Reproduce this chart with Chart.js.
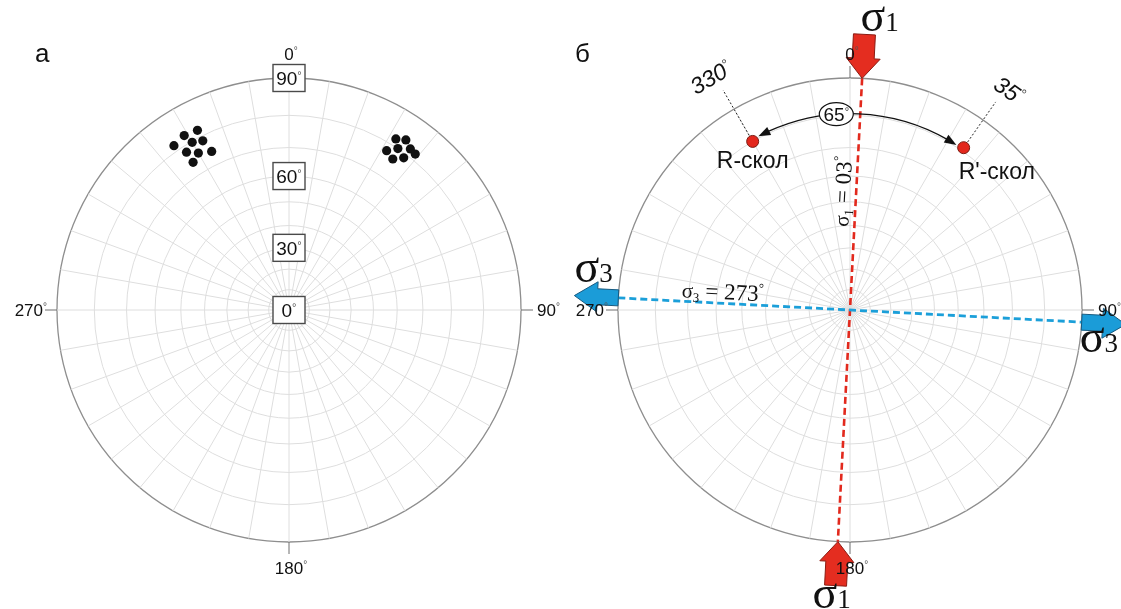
<!DOCTYPE html>
<html>
<head>
<meta charset="utf-8">
<script src="https://cdn.jsdelivr.net/npm/chart.js@4.4.1/dist/chart.umd.min.js"></script>
<style>
  html, body { margin: 0; padding: 0; background: #fff; }
  #wrap { position: relative; width: 1121px; height: 609px; overflow: hidden; }
  #wrap canvas { position: absolute; left: 0; top: 0; }
</style>
</head>
<body>
<div id="wrap">
  <canvas id="netA" width="1121" height="609"></canvas>
  <canvas id="netB" width="1121" height="609"></canvas>
</div>
<script>
// Directions of the net's radial lines (azimuth, clockwise from north)
const azimuthGrid = [0, 10, 20, 30, 40, 50, 60, 70, 80, 90, 100, 110, 120, 130, 140, 150, 160, 170,
                     180, 190, 200, 210, 220, 230, 240, 250, 260, 270, 280, 290, 300, 310, 320, 330, 340, 350];
// Small circles: angle from the centre (0°) to the primitive circle (90°)
const dipGrid = [0, 10, 20, 30, 40, 50, 60, 70, 80, 90];
const dipScaleLabels = [0, 30, 60, 90];
const cardinalAzimuths = [0, 90, 180, 270];
const cardinalLabels = ['0', '90', '180', '270'];

// Panel а: two clusters of measurements
const clusterWestAz  = [333, 329, 325, 330, 333, 327, 330, 334, 327];
const clusterWestDip = [82, 82.5, 81.7, 79.7, 78.6, 78.1, 76, 74.5, 74.4];
const clusterEastAz  = [32, 34.5, 31.5, 34, 37, 34.5, 37, 39];
const clusterEastDip = [82, 83.3, 77.7, 80, 82, 76.6, 78.8, 81.7];

// Panel б: stress axes and conjugate shears
const sigma1Trend = 3;
const sigma3Trend = 273;
const shearNames = ['R-скол', "R'-скол"];
const shearAz = [330, 35];
const shearDip = [80, 81];
const shearAngle = 65;

const SANS = '"Liberation Sans", Arial, sans-serif';
const SERIF = '"Liberation Serif", "Times New Roman", serif';
const NET_SIZE = 464;

// Wulff (equal-angle) projection of an angle measured from the centre
const wulff = d => Math.tan(d * Math.PI / 360);
const idx = az => az * azimuthGrid.length / 360;
const polar = (s, az, dip) => s.getPointPosition(idx(az), s.getDistanceFromCenterForValue(wulff(dip)));
const rim = (s, az, extra) => s.getPointPosition(idx(az), s.drawingArea + extra);
const canvasAngle = (s, az) => s.getIndexAngle(idx(az)) - Math.PI / 2;

function deg(size, color) {
  return { text: '°', font: Math.round(size * 0.6) + 'px ' + SANS, dy: -0.33 * size, color: color || '#555' };
}

function drawRuns(ctx, runs, x, y, rot, align) {
  ctx.save();
  ctx.translate(x, y);
  ctx.rotate(rot || 0);
  let total = 0;
  runs.forEach(r => { ctx.font = r.font; r.w = ctx.measureText(r.text).width; total += r.w; });
  let cx = 0;
  if (align === 'center') cx = -total / 2;
  else if (align === 'right') cx = -total;
  else if (align === 'first') cx = -runs[0].w / 2;
  ctx.textAlign = 'left';
  ctx.textBaseline = 'alphabetic';
  runs.forEach(r => {
    ctx.font = r.font;
    ctx.fillStyle = r.color || '#111';
    ctx.fillText(r.text, cx, r.dy || 0);
    cx += r.w;
  });
  ctx.restore();
}

function drawCardinals(ctx, s) {
  ctx.save();
  ctx.strokeStyle = '#6e6e6e';
  ctx.lineWidth = 1;
  cardinalAzimuths.forEach((az, i) => {
    const a = rim(s, az, 0), b = rim(s, az, 12);
    ctx.beginPath(); ctx.moveTo(a.x, a.y); ctx.lineTo(b.x, b.y); ctx.stroke();
    const runs = [{ text: cardinalLabels[i], font: '17px ' + SANS }, deg(17)];
    if (az === 0) { const p = rim(s, az, 18); drawRuns(ctx, runs, p.x, p.y, 0, 'first'); }
    else if (az === 180) { const p = rim(s, az, 32); drawRuns(ctx, runs, p.x, p.y, 0, 'first'); }
    else if (az === 90) { const p = rim(s, az, 16); drawRuns(ctx, runs, p.x, p.y + 6, 0, 'left'); }
    else { const p = rim(s, az, 10); drawRuns(ctx, runs, p.x, p.y + 6, 0, 'right'); }
  });
  ctx.restore();
}

function arrow(ctx, tail, tip, shaftW, headW, headL, fill, stroke) {
  const dx = tip.x - tail.x, dy = tip.y - tail.y, L = Math.hypot(dx, dy);
  const ux = dx / L, uy = dy / L, nx = -uy, ny = ux;
  const bx = tip.x - ux * headL, by = tip.y - uy * headL;
  const pts = [
    [tail.x + nx * shaftW / 2, tail.y + ny * shaftW / 2],
    [bx + nx * shaftW / 2, by + ny * shaftW / 2],
    [bx + nx * headW / 2, by + ny * headW / 2],
    [tip.x, tip.y],
    [bx - nx * headW / 2, by - ny * headW / 2],
    [bx - nx * shaftW / 2, by - ny * shaftW / 2],
    [tail.x - nx * shaftW / 2, tail.y - ny * shaftW / 2]
  ];
  ctx.save();
  ctx.beginPath();
  pts.forEach((p, i) => i ? ctx.lineTo(p[0], p[1]) : ctx.moveTo(p[0], p[1]));
  ctx.closePath();
  ctx.fillStyle = fill; ctx.fill();
  ctx.strokeStyle = stroke; ctx.lineWidth = 1; ctx.lineJoin = 'miter'; ctx.stroke();
  ctx.restore();
}

function dashedDiameter(ctx, s, trend, color, width) {
  const a = rim(s, trend, 0), b = rim(s, trend + 180, 0);
  ctx.save();
  ctx.strokeStyle = color; ctx.lineWidth = width; ctx.setLineDash([7, 4]);
  ctx.beginPath(); ctx.moveTo(a.x, a.y); ctx.lineTo(b.x, b.y); ctx.stroke();
  ctx.restore();
}

function arcHead(ctx, s, r, tipAz, backAz) {
  const tip = s.getPointPosition(idx(tipAz), r);
  const base = s.getPointPosition(idx(backAz), r);
  const dx = tip.x - base.x, dy = tip.y - base.y, L = Math.hypot(dx, dy);
  const nx = -dy / L, ny = dx / L;
  ctx.beginPath();
  ctx.moveTo(tip.x, tip.y);
  ctx.lineTo(base.x + nx * 4.5, base.y + ny * 4.5);
  ctx.lineTo(base.x - nx * 4.5, base.y - ny * 4.5);
  ctx.closePath();
  ctx.fill();
}

const netAPlugin = {
  id: 'netA',
  afterDraw(chart) {
    const s = chart.scales.r, ctx = chart.ctx;
    drawCardinals(ctx, s);
    // measured points
    ctx.save();
    ctx.fillStyle = '#111';
    [[clusterWestAz, clusterWestDip], [clusterEastAz, clusterEastDip]].forEach(([az, dip]) => {
      az.forEach((a, i) => {
        const p = polar(s, a, dip[i]);
        ctx.beginPath(); ctx.arc(p.x, p.y, 4.6, 0, Math.PI * 2); ctx.fill();
      });
    });
    // radial scale of the net
    dipScaleLabels.forEach(d => {
      const p = polar(s, 0, d);
      ctx.fillStyle = '#fff';
      ctx.fillRect(p.x - 16, p.y - 13.5, 32, 27);
      ctx.strokeStyle = '#4a4a4a'; ctx.lineWidth = 1.4;
      ctx.strokeRect(p.x - 16, p.y - 13.5, 32, 27);
      drawRuns(ctx, [{ text: String(d), font: '19px ' + SANS }, deg(19)], p.x, p.y + 7, 0, 'center');
    });
    ctx.restore();
    drawRuns(ctx, [{ text: 'а', font: '26px ' + SANS }], 35, 62, 0, 'left');
  }
};

const netBPlugin = {
  id: 'netB',
  afterDraw(chart) {
    const s = chart.scales.r, ctx = chart.ctx;

    // traces of the principal stress axes
    dashedDiameter(ctx, s, sigma1Trend, '#e2291d', 2.6);
    dashedDiameter(ctx, s, sigma3Trend, '#1b9fd9', 2.8);

    // angle between the shears
    const rArc = s.getDistanceFromCenterForValue(wulff((shearDip[0] + shearDip[1]) / 2));
    const headDeg = 12 / rArc * 180 / Math.PI;
    const gap = 2.2;
    ctx.save();
    ctx.strokeStyle = '#111'; ctx.fillStyle = '#111'; ctx.lineWidth = 1.3;
    ctx.beginPath();
    ctx.arc(s.xCenter, s.yCenter, rArc,
      canvasAngle(s, shearAz[0] + gap + headDeg - 0.5), canvasAngle(s, shearAz[1] - gap - headDeg + 0.5), false);
    ctx.stroke();
    arcHead(ctx, s, rArc, shearAz[0] + gap, shearAz[0] + gap + headDeg);
    arcHead(ctx, s, rArc, shearAz[1] - gap, shearAz[1] - gap - headDeg);
    const e = s.getPointPosition(idx(356), rArc);
    ctx.beginPath(); ctx.ellipse(e.x, e.y, 17, 11.5, 0, 0, Math.PI * 2);
    ctx.fillStyle = '#fff'; ctx.fill(); ctx.lineWidth = 1.2; ctx.stroke();
    drawRuns(ctx, [{ text: String(shearAngle), font: '19px ' + SANS }, deg(19, '#333')], e.x, e.y + 7, 0, 'center');

    // leaders and azimuth labels of the shears
    ctx.setLineDash([2, 2]); ctx.lineWidth = 1; ctx.strokeStyle = '#222';
    shearAz.forEach((az, i) => {
      const d = s.getDistanceFromCenterForValue(wulff(shearDip[i]));
      const a = s.getPointPosition(idx(az), d + 7), b = rim(s, az, 22);
      ctx.beginPath(); ctx.moveTo(a.x, a.y); ctx.lineTo(b.x, b.y); ctx.stroke();
    });
    ctx.setLineDash([]);
    shearAz.forEach(az => {
      const p = rim(s, az, 38);
      drawRuns(ctx, [{ text: String(az), font: 'italic 23px ' + SANS }, deg(23, '#444')],
        p.x, p.y + 8, az * Math.PI / 180, 'center');
    });

    // shear poles
    shearAz.forEach((az, i) => {
      const p = polar(s, az, shearDip[i]);
      ctx.beginPath(); ctx.arc(p.x, p.y, 6, 0, Math.PI * 2);
      ctx.fillStyle = '#e3271c'; ctx.fill();
      ctx.strokeStyle = '#7a1d14'; ctx.lineWidth = 1; ctx.stroke();
    });
    const pr = polar(s, shearAz[0], shearDip[0]);
    drawRuns(ctx, [{ text: shearNames[0], font: '23px ' + SANS }], pr.x, pr.y + 27, 0, 'center');
    const pr2 = polar(s, shearAz[1], shearDip[1]);
    drawRuns(ctx, [{ text: shearNames[1], font: '23px ' + SANS }], pr2.x - 5, pr2.y + 31, 0, 'left');
    ctx.restore();

    // σ1: compression arrows pointing at the net
    const red = '#e42d20', redEdge = '#8a1b12';
    const t1 = rim(s, sigma1Trend, 44), h1 = rim(s, sigma1Trend, 0);
    arrow(ctx, t1, h1, 22, 34, 20, red, redEdge);
    const t1b = rim(s, sigma1Trend + 180, 44), h1b = rim(s, sigma1Trend + 180, 0);
    arrow(ctx, t1b, h1b, 22, 34, 20, red, redEdge);
    // σ3: extension arrows pointing away from the net
    const blue = '#1b9cd8', blueEdge = '#175a80';
    const t3 = rim(s, sigma3Trend, 0), h3 = rim(s, sigma3Trend, 44);
    arrow(ctx, t3, h3, 16, 30, 23, blue, blueEdge);
    const t3b = rim(s, sigma3Trend - 180, 0), h3b = rim(s, sigma3Trend - 180, 44);
    arrow(ctx, t3b, h3b, 16, 30, 23, blue, blueEdge);

    // direction labels on top of the arrows
    drawCardinals(ctx, s);

    const sig = n => [{ text: 'σ', font: '46px ' + SERIF }, { text: n, font: '27px ' + SERIF }];
    drawRuns(ctx, sig('1'), t1.x - 4, t1.y - 3, 0, 'left');
    drawRuns(ctx, sig('1'), t1b.x - 4, t1b.y + 22, 0, 'center');
    drawRuns(ctx, sig('3'), h3.x, h3.y - 14, 0, 'left');
    drawRuns(ctx, sig('3'), t3b.x - 2, t3b.y + 30, 0, 'left');

    // values written along the traces
    const pad2 = v => String(v).padStart(2, '0');
    const val = (n, v) => [
      { text: 'σ', font: '21px ' + SERIF },
      { text: n, font: '13px ' + SERIF, dy: 4 },
      { text: ' = ' + v, font: '23px ' + SERIF },
      { text: '°', font: '13px ' + SERIF, dy: -9 }
    ];
    const r1 = (sigma1Trend - 90) * Math.PI / 180;
    const p1 = s.getPointPosition(idx(sigma1Trend), 118);
    drawRuns(ctx, val('1', pad2(sigma1Trend)), p1.x + Math.sin(r1) * 6, p1.y - Math.cos(r1) * 6, r1, 'center');
    const r3 = (sigma3Trend - 270) * Math.PI / 180;
    const p3 = s.getPointPosition(idx(sigma3Trend), 128);
    drawRuns(ctx, val('3', pad2(sigma3Trend)), p3.x + Math.sin(r3) * 4, p3.y - Math.cos(r3) * 4, r3, 'center');

    drawRuns(ctx, [{ text: 'б', font: '26px ' + SANS }], 575, 62, 0, 'left');
  }
};

function makeNet(id, left, plugin) {
  return new Chart(document.getElementById(id), {
    type: 'radar',
    data: { labels: azimuthGrid.map(a => a + '°'), datasets: [] },
    options: {
      responsive: false,
      animation: false,
      events: [],
      layout: { padding: { left: left, right: 1121 - left - NET_SIZE, top: 78, bottom: 609 - 78 - NET_SIZE } },
      plugins: { legend: { display: false }, tooltip: { enabled: false } },
      scales: {
        r: {
          min: 0, max: 1, startAngle: 0,
          afterBuildTicks: sc => { sc.ticks = dipGrid.map(d => ({ value: wulff(d) })); },
          ticks: { display: false },
          grid: {
            circular: true,
            color: c => (c.tick && c.tick.value > 0.999) ? '#8e8e8e' : '#dedede',
            lineWidth: c => (c.tick && c.tick.value > 0.999) ? 1.3 : 1
          },
          angleLines: { color: '#dedede', lineWidth: 1 },
          pointLabels: { display: false }
        }
      }
    },
    plugins: [plugin]
  });
}

makeNet('netA', 57, netAPlugin);
makeNet('netB', 618, netBPlugin);
</script>
</body>
</html>
